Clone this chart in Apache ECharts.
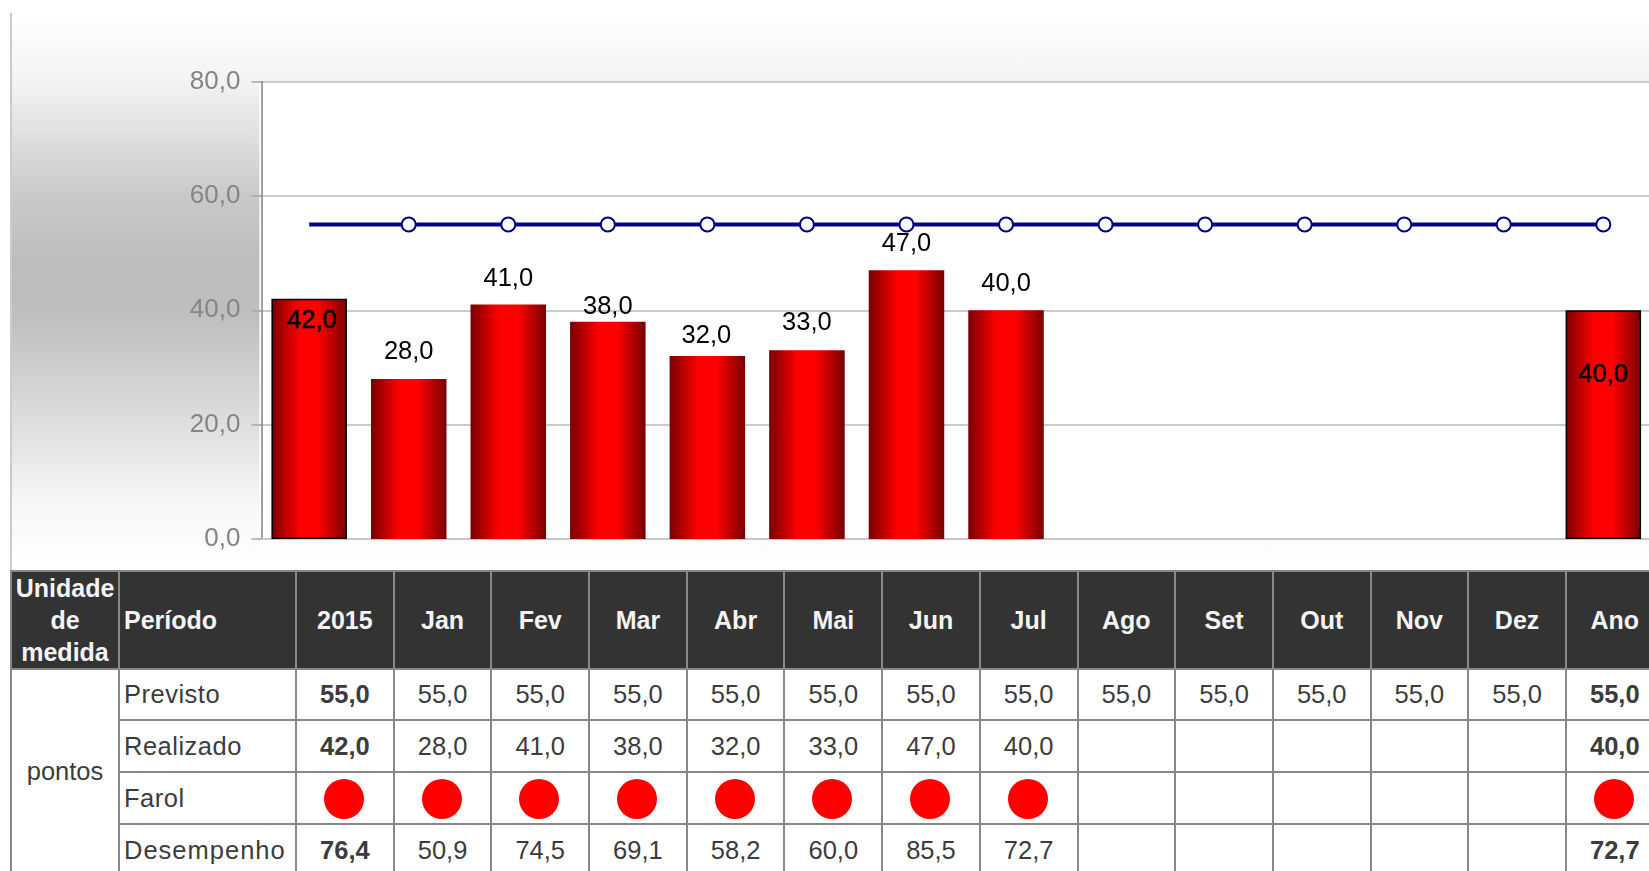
<!DOCTYPE html>
<html>
<head>
<meta charset="utf-8">
<title>Desempenho</title>
<script src="https://cdn.jsdelivr.net/npm/echarts@6/dist/echarts.min.js"></script>
<style>
  html, body { margin: 0; padding: 0; width: 1649px; height: 871px; overflow: hidden; background: #fff; }
  body { position: relative; font-family: "Liberation Sans", Arial, sans-serif; }
  .panel {
    position: absolute; left: 10px; top: 13px; width: 1639px; height: 558px;
    border-left: 2px solid #ccc; box-sizing: border-box;
    background: linear-gradient(to bottom, #fff 0, #f3f3f3 69px, #c9c9c9 184px, #bdbdbd 250px, #bebebe 300px, #dedede 410px, #f6f6f6 487px, #fff 552px);
  }
  /* o grafico passa da largura da janela, a ultima coluna fica cortada como no original */
  #chart { position: absolute; left: 0; top: 0; width: 1700px; height: 571px; }
  table {
    position: absolute; left: 10px; top: 570px; width: 1654px;
    border-collapse: collapse; table-layout: fixed; background: #fff;
    font-size: 25.5px; color: #3c3c3c;
  }
  td, th { border: 2px solid #888; padding: 0; text-align: center; white-space: nowrap; overflow: hidden; }
  th { background: #333; color: #f4f4f4; font-weight: bold; font-size: 25px; line-height: 32px; }
  .head { height: 96px; }
  .row { height: 51px; }
  .row2 { height: 52px; }
  .row3 { height: 53px; }
  .left { text-align: left; padding-left: 4px; }
  td.left { letter-spacing: 0.5px; }
  td.wide { letter-spacing: 1px; }
  td.unidade { padding-bottom: 4px; }
  .strong { font-weight: bold; }
  .farol { display: block; width: 40px; height: 40px; margin: 2px auto 0; border-radius: 50%; background: #f00; position: relative; left: -1px; }
</style>
</head>
<body>
<div class="panel"></div>
<div id="chart"></div>
<table id="tabela"></table>
<script>
const categories = ['2015', 'Jan', 'Fev', 'Mar', 'Abr', 'Mai', 'Jun', 'Jul', 'Ago', 'Set', 'Out', 'Nov', 'Dez', 'Ano']
const previsto = [55, 55, 55, 55, 55, 55, 55, 55, 55, 55, 55, 55, 55, 55]
const realizado = [42, 28, 41, 38, 32, 33, 47, 40, null, null, null, null, null, 40]
const desempenho = [76.4, 50.9, 74.5, 69.1, 58.2, 60.0, 85.5, 72.7, null, null, null, null, null, 72.7]
const farol = [1, 1, 1, 1, 1, 1, 1, 1, 0, 0, 0, 0, 0, 1]

// os dois totais tem borda preta e o rotulo dentro da barra
const totais = [0, 13]
// deslocamento dos rotulos [x, y], como no original
const labelOffsets = [[3, 40], [0, -8.5], [0, -7.5], [0, 3.5], [-1, -2.5], [0, -9.5], [0, -8], [0, -8],
  [0, 0], [0, 0], [0, 0], [0, 0], [0, 0], [0, 83]]

const fmt = (v) => (v === null ? '' : v.toFixed(1).replace('.', ','))

const barGradient = {
  type: 'linear', x: 0, y: 0, x2: 1, y2: 0,
  colorStops: [
    { offset: 0, color: '#780000' },
    { offset: 0.38, color: '#ff0000' },
    { offset: 0.62, color: '#ff0000' },
    { offset: 1, color: '#780000' }
  ]
}

const chart = echarts.init(document.getElementById('chart'))
chart.setOption({
  animation: false,
  backgroundColor: 'transparent',
  textStyle: { fontFamily: '"Liberation Sans", Arial, sans-serif' },
  grid: { left: 259.4, top: 81.5, width: 1393.7, height: 457.5, show: true, backgroundColor: '#fff', borderWidth: 0 },
  xAxis: {
    type: 'category',
    data: categories,
    axisLine: { lineStyle: { color: '#c8c8c8', width: 2 } },
    axisTick: { show: false },
    axisLabel: { show: false }
  },
  yAxis: {
    type: 'value',
    min: 0,
    max: 80,
    interval: 20,
    offset: -2,
    axisLine: { show: true, lineStyle: { color: '#808080', width: 1.5 } },
    axisTick: { show: true, length: 10, lineStyle: { color: '#a8a8a8', width: 1.5 } },
    axisLabel: { margin: 21, color: '#858585', fontSize: 26, padding: [3, 0, 0, 0], formatter: (v) => fmt(v) },
    splitLine: { lineStyle: { color: '#cbcbcb', width: 2 } }
  },
  series: [
    {
      name: 'Realizado',
      type: 'bar',
      barWidth: 75.5,
      z: 2,
      data: realizado.map((v, i) => ({
        value: v,
        itemStyle: totais.includes(i) ? { borderColor: '#000', borderWidth: 1.5 } : {},
        label: totais.includes(i)
          ? { offset: labelOffsets[i], color: '#000', textBorderColor: '#000', textBorderWidth: 0.6 }
          : { offset: labelOffsets[i] }
      })),
      itemStyle: { color: barGradient },
      label: {
        show: true,
        position: 'top',
        fontSize: 25.5,
        color: '#000',
        formatter: (p) => fmt(p.value)
      }
    },
    {
      name: 'Previsto',
      type: 'line',
      z: 3,
      data: previsto.map((v, i) => ({ value: v, symbol: i === 0 ? 'none' : 'circle' })),
      symbolSize: 14,
      itemStyle: { color: '#fff', borderColor: '#00008b', borderWidth: 2 },
      lineStyle: { color: '#00008b', width: 4 }
    }
  ]
})

// tabela abaixo do grafico
const colunas = '<col style="width:108px"><col style="width:177px">' + categories.map(() => '<col style="width:97.7px">').join('')
const celulas = (arr) => arr.map((v, i) => `<td class="${i === 0 || i === 13 ? 'strong' : ''}">${fmt(v)}</td>`).join('')
const farois = farol.map((f) => `<td>${f ? '<span class="farol"></span>' : ''}</td>`).join('')
document.getElementById('tabela').innerHTML = `<colgroup>${colunas}</colgroup>
  <tr class="head"><th>Unidade<br>de<br>medida</th><th class="left">Período</th>${categories.map((c) => `<th>${c}</th>`).join('')}</tr>
  <tr class="row"><td rowspan="4" class="unidade">pontos</td><td class="left">Previsto</td>${celulas(previsto)}</tr>
  <tr class="row2"><td class="left">Realizado</td>${celulas(realizado)}</tr>
  <tr class="row2"><td class="left">Farol</td>${farois}</tr>
  <tr class="row3"><td class="left wide">Desempenho</td>${celulas(desempenho)}</tr>`
</script>
</body>
</html>
